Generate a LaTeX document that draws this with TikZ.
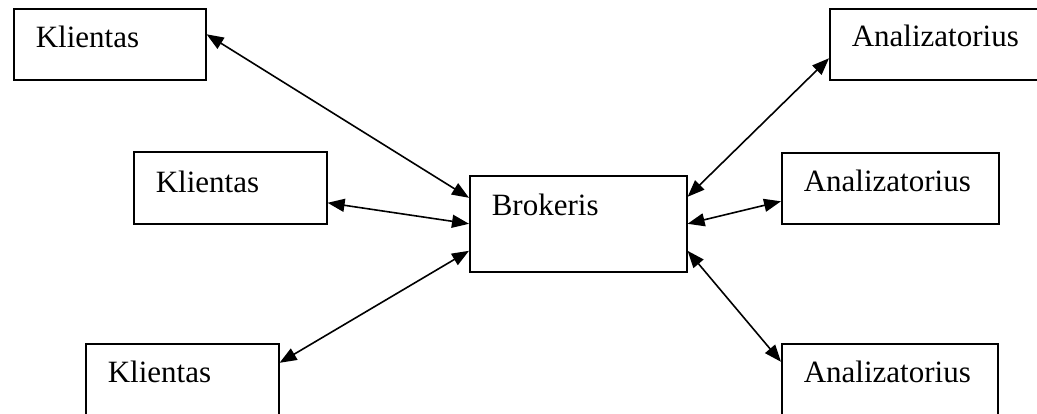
\documentclass[tikz,border=0pt]{standalone}
\usepackage{fontspec}
\setmainfont{Liberation Serif}
\usetikzlibrary{arrows.meta}

\begin{document}
\begin{tikzpicture}[x=1pt,y=-1pt,
    box/.style={draw, line width=1.6pt, anchor=north west, align=left,
      inner xsep=22pt, inner ysep=0pt, text height=39pt, text depth=32pt,
      font=\fontsize{31}{36}\selectfont},
    link/.style={<->, >={Triangle[length=17pt,width=13pt]}, line width=1.6pt}]

    \useasboundingbox (0,0) rectangle (1037,414);

    % Clients
    \node[box, text width=148pt] (k1) at (13,8) {Klientas};
    \node[box, text width=149pt, text height=41pt, text depth=31pt] (k2) at (133,151) {Klientas};
    \node[box, text width=149pt, text depth=33pt] (k3) at (85,343) {Klientas};

    % Broker
    \node[box, text width=173pt, text height=40pt, text depth=56pt] (b) at (469,175) {Brokeris};

    % Analyzers
    \node[box, text width=173pt, text height=38pt, text depth=33pt] (a1) at (829,8) {Analizatorius};
    \node[box, text width=173pt] (a2) at (781,152) {Analizatorius};
    \node[box, text width=172pt, text depth=33pt] (a3) at (781,343) {Analizatorius};

    % Links
    \draw[link] ([yshift=10pt]k1.east) -- ([yshift=26pt]b.west);
    \draw[link] ([yshift=-15pt]k2.east) -- (b.west);
    \draw[link] ([yshift=17pt]k3.east) -- ([yshift=-27pt]b.west);
    \draw[link] ([yshift=-14pt]a1.west) -- ([yshift=27pt]b.east);
    \draw[link] ([yshift=-13pt]a2.west) -- (b.east);
    \draw[link] ([yshift=18pt]a3.west) -- ([yshift=-27pt]b.east);

\end{tikzpicture}
\end{document}
